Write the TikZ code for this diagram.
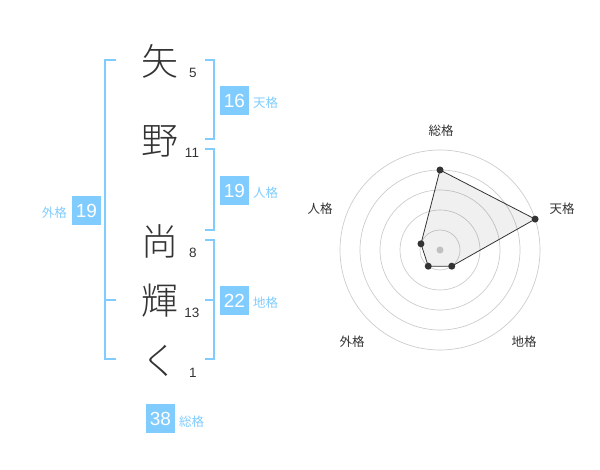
\documentclass[tikz,border=0pt]{standalone}
\usepackage{fontspec}
\setmainfont{Liberation Sans}
\newfontfamily\jp{Noto Sans CJK JP}
\IfFontExistsTF{Noto Sans CJK JP Light}
  {\newfontfamily\jplight{Noto Sans CJK JP Light}}
  {\newfontfamily\jplight{Noto Sans CJK JP}}
\definecolor{kakublue}{HTML}{80CCFF}
\definecolor{ink}{HTML}{333333}
\tikzset{
  kanji/.style={font=\jplight\fontsize{37}{37}\selectfont, text=ink, inner sep=0pt},
  strokes/.style={font=\fontsize{13.5}{14}\selectfont, text=ink, inner sep=0pt},
  scorebox/.style={fill=kakublue, text=white, minimum size=29pt, inner sep=0pt, font=\fontsize{19}{19}\selectfont},
  kakulabel/.style={font=\jp\fontsize{12.5}{13}\selectfont, text=kakublue, inner sep=0pt},
  bracket/.style={draw=kakublue, line width=2pt},
  radarlabel/.style={font=\jp\fontsize{12.5}{13}\selectfont, text=ink, inner sep=0pt},
  ring/.style={draw=black!20, line width=0.7pt},
  dot/.style={circle, fill=ink, inner sep=0pt, minimum size=7pt},
}
\begin{document}
\begin{tikzpicture}[x=1pt,y=-1pt]
    \useasboundingbox (0,0) rectangle (600,470);
    % name
    \node[kanji] (k1) at (160,61) {矢};
    \node[kanji] (k2) at (160,141) {野};
    \node[kanji] (k3) at (160,241) {尚};
    \node[kanji] (k4) at (160,301) {輝};
    \node[kanji] (k5) at (160,361) {く};
    \node[strokes] (s1) at (193,73) {5};
    \node[strokes] (s2) at (192,153) {11};
    \node[strokes] (s3) at (193,253) {8};
    \node[strokes] (s4) at (192,313) {13};
    \node[strokes] (s5) at (193,373) {1};
    % brackets
    \draw[bracket] (116,60) -- (105,60) -- (105,359) -- (116,359)
                   (105,300) -- (116,300);
    \draw[bracket] (205,60) -- (214,60) -- (214,139) -- (205,139);
    \draw[bracket] (205,149) -- (214,149) -- (214,230) -- (205,230);
    \draw[bracket] (205,240) -- (214,240) -- (214,359) -- (205,359)
                   (205,300) -- (214,300);
    % scores
    \node[scorebox] (ten) at (234.5,100.5) {16};
    \node[kakulabel,anchor=west] (tenl) at (253,103) {天格};
    \node[scorebox] (jin) at (234.5,190.5) {19};
    \node[kakulabel,anchor=west] (jinl) at (253,193) {人格};
    \node[scorebox] (chi) at (234.5,300.5) {22};
    \node[kakulabel,anchor=west] (chil) at (253,303) {地格};
    \node[scorebox] (gai) at (86.5,210.5) {19};
    \node[kakulabel,anchor=east] (gail) at (67,213) {外格};
    \node[scorebox] (sou) at (160.5,418.5) {38};
    \node[kakulabel,anchor=west] (soul) at (179,422) {総格};
    % radar
    \coordinate (c) at (440,250);
    \foreach \r in {20,40,60,80,100} \draw[ring] (c) circle (\r);
    \fill[black!20] (c) circle (3.5);
    \path (c) ++(-90:80) coordinate (psou)
          (c) ++(-18:100) coordinate (pten)
          (c) ++(54:20) coordinate (pchi)
          (c) ++(126:20) coordinate (pgai)
          (c) ++(198:20) coordinate (pjin);
    \draw[ink, line width=0.8pt, fill=black, fill opacity=0.06]
          (psou) -- (pten) -- (pchi) -- (pgai) -- (pjin) -- cycle;
    \foreach \p in {psou,pten,pchi,pgai,pjin} \node[dot] (d\p) at (\p) {};
    \node[radarlabel] (rsou) at (441,131) {総格};
    \node[radarlabel] (rten) at (562,209) {天格};
    \node[radarlabel] (rjin) at (320,209) {人格};
    \node[radarlabel] (rgai) at (352,342) {外格};
    \node[radarlabel] (rchi) at (524,342) {地格};
\end{tikzpicture}
\end{document}
